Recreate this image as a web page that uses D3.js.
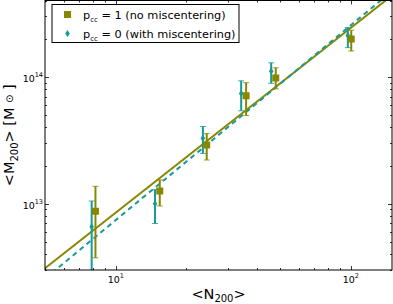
<!DOCTYPE html>
<html>
<head>
<meta charset="utf-8">
<script src="https://cdn.jsdelivr.net/npm/d3@7"></script>
<style>
  body { margin: 0; background: #fff; }
  svg { display: block; font-family: "DejaVu Sans", sans-serif; }
</style>
</head>
<body>
<div id="chart"></div>
<script>
//  Data
var nCentered  = [8.2, 15.4, 24.4, 35.9, 48.0, 100.6];
var mCentered  = [8.7e12, 1.26e13, 2.9e13, 7.1e13, 9.8e13, 1.99e14];
var hiCentered = [1.37e13, 1.54e13, 3.57e13, 9.0e13, 1.18e14, 2.33e14];
var loCentered = [3.74e12, 9.6e12, 2.21e13, 4.95e13, 8.05e13, 1.6e14];

var nMiscent  = [7.9, 14.7, 23.5, 34.2, 45.9, 97.3];
var mMiscent  = [6.58e12, 1.0e13, 3.28e13, 7.4e13, 1.107e14, 2.12e14];
var hiMiscent = [1.05e13, 1.29e13, 4.06e13, 9.3e13, 1.29e14, 2.45e14];
var loMiscent = [2.5e12, 6.98e12, 2.49e13, 5.4e13, 8.9e13, 1.7e14];

//  Best fit lines (end points)
var fitN        = [5, 150];
var fitCentered = [3.1e12, 4.38e14];
var fitMiscent  = [2.56e12, 4.74e14];

var legendLabels = ["1 (no miscentering)", "0 (with miscentering)"];

// ---------------------------------------------------------------------------------- //

var W = 393, H = 304;
var pLeft = 45, pRight = 392, pTop = 0.5, pBottom = 270;
var olive = "#888800";
var teal = "#189a9a";

var svg = d3.select("#chart").append("svg")
  .attr("width", W)
  .attr("height", H);

var x = d3.scaleLog().domain([5, 150]).range([pLeft, pRight]);
var y = d3.scaleLog().domain([3e12, 4e14]).range([pBottom, pTop]);

svg.append("clipPath").attr("id", "clip")
  .append("rect")
  .attr("x", pLeft).attr("y", pTop)
  .attr("width", pRight - pLeft).attr("height", pBottom - pTop);

var plot = svg.append("g").attr("clip-path", "url(#clip)");

//  Fit lines
var line = d3.line()
  .x(function(d) { return x(d[0]); })
  .y(function(d) { return y(d[1]); });

plot.append("path")
  .datum(d3.zip(fitN, fitCentered))
  .attr("d", line)
  .attr("fill", "none")
  .attr("stroke", olive)
  .attr("stroke-width", 2);

plot.append("path")
  .datum(d3.zip(fitN, fitMiscent))
  .attr("d", line)
  .attr("fill", "none")
  .attr("stroke", teal)
  .attr("stroke-width", 2)
  .attr("stroke-dasharray", "5,4");

//  Error bars + markers
function drawSeries(ns, ms, his, los, color, shape)
{
  var g = plot.append("g");
  ns.forEach(function(n, i) {
    var cx = x(n);
    g.append("line")
      .attr("x1", cx).attr("x2", cx)
      .attr("y1", y(his[i])).attr("y2", y(los[i]))
      .attr("stroke", color).attr("stroke-width", 2);
    [his[i], los[i]].forEach(function(v) {
      g.append("line")
        .attr("x1", cx - 3).attr("x2", cx + 3)
        .attr("y1", y(v)).attr("y2", y(v))
        .attr("stroke", color).attr("stroke-width", 1)
        .attr("stroke-opacity", 0.8);
    });
    g.append("path")
      .attr("d", shape)
      .attr("transform", "translate(" + cx + "," + y(ms[i]) + ")")
      .attr("fill", color);
  });
}

var square = "M-3.5,-3.5H3.5V3.5H-3.5Z";
var diamond = "M0,-3.5L2.3,0L0,3.5L-2.3,0Z";

drawSeries(nMiscent, mMiscent, hiMiscent, loMiscent, teal, diamond);
drawSeries(nCentered, mCentered, hiCentered, loCentered, olive, square);

//  Ticks (inward, all four sides)
var xMajor = [10, 100];
var xMinor = [5, 6, 7, 8, 9, 20, 30, 40, 50, 60, 70, 80, 90];
var yMajor = [1e13, 1e14];
var yMinor = [3e12, 4e12, 5e12, 6e12, 7e12, 8e12, 9e12,
              2e13, 3e13, 4e13, 5e13, 6e13, 7e13, 8e13, 9e13, 2e14, 3e14, 4e14];

var ticks = svg.append("g").attr("stroke", "#000").attr("stroke-width", 0.8);

function xTick(v, len)
{
  var px = Math.round(x(v)) + 0.5;
  ticks.append("line").attr("x1", px).attr("x2", px).attr("y1", pBottom).attr("y2", pBottom - len);
  ticks.append("line").attr("x1", px).attr("x2", px).attr("y1", pTop).attr("y2", pTop + len);
}
function yTick(v, len)
{
  var py = Math.round(y(v)) + 0.5;
  ticks.append("line").attr("x1", pLeft).attr("x2", pLeft + len).attr("y1", py).attr("y2", py);
  ticks.append("line").attr("x1", pRight).attr("x2", pRight - len).attr("y1", py).attr("y2", py);
}
xMajor.forEach(function(v) { xTick(v, 4); });
xMinor.forEach(function(v) { xTick(v, 2); });
yMajor.forEach(function(v) { yTick(v, 4); });
yMinor.forEach(function(v) { yTick(v, 2); });

//  Frame
svg.append("rect")
  .attr("x", pLeft).attr("y", pTop)
  .attr("width", pRight - pLeft).attr("height", pBottom - pTop)
  .attr("fill", "none")
  .attr("stroke", "#000")
  .attr("stroke-width", 1);

//  Tick labels
function powLabel(g, v)
{
  var e = Math.round(Math.log10(v));
  g.append("tspan").text("10");
  g.append("tspan").attr("dy", -5).attr("font-size", 6.5).text(e);
}

xMajor.forEach(function(v) {
  var t = svg.append("text")
    .attr("x", x(v) - 8)
    .attr("y", 283)
    .attr("font-size", 9.5)
    .attr("fill", "#000");
  powLabel(t, v);
});

yMajor.forEach(function(v) {
  var t = svg.append("text")
    .attr("x", 43)
    .attr("y", y(v) + 5)
    .attr("text-anchor", "end")
    .attr("font-size", 9.5)
    .attr("fill", "#000");
  powLabel(t, v);
});

//  Axis labels
var xl = svg.append("text")
  .attr("x", (pLeft + pRight) / 2)
  .attr("y", 298.5)
  .attr("text-anchor", "middle")
  .attr("font-size", 14.5);
xl.append("tspan").text("<N");
xl.append("tspan").attr("dy", 3.5).attr("font-size", 10).text("200");
xl.append("tspan").attr("dy", -3.5).text(">");

var yl = svg.append("text")
  .attr("transform", "translate(14," + ((pTop + pBottom) / 2) + ") rotate(-90)")
  .attr("text-anchor", "middle")
  .attr("font-size", 14.5);
yl.append("tspan").text("<M");
yl.append("tspan").attr("dy", 4).attr("font-size", 10).text("200");
yl.append("tspan").attr("dy", -4).text("> [M ");
yl.append("tspan").attr("dy", -1.5).attr("font-size", 10).text("\u2299");
yl.append("tspan").attr("dy", 1.5).text(" ]");

//  Legend
var lg = svg.append("g");
lg.append("rect")
  .attr("x", 52).attr("y", 4.5)
  .attr("width", 187).attr("height", 38)
  .attr("fill", "#fff")
  .attr("stroke", "#000")
  .attr("stroke-width", 1);

var legendColors = [olive, teal];
var legendShapes = [square, diamond];
legendLabels.forEach(function(lab, i) {
  var ly = 14.5 + i * 19;
  lg.append("path")
    .attr("d", legendShapes[i])
    .attr("transform", "translate(67.5," + ly + ")")
    .attr("fill", legendColors[i]);
  var t = lg.append("text")
    .attr("x", 83)
    .attr("y", ly + 4)
    .attr("font-size", 11.3)
    .attr("fill", "#000");
  t.append("tspan").text("p");
  t.append("tspan").attr("dy", 3).attr("font-size", 7).text("cc");
  t.append("tspan").attr("dy", -3).text(" = " + lab);
});
</script>
</body>
</html>
